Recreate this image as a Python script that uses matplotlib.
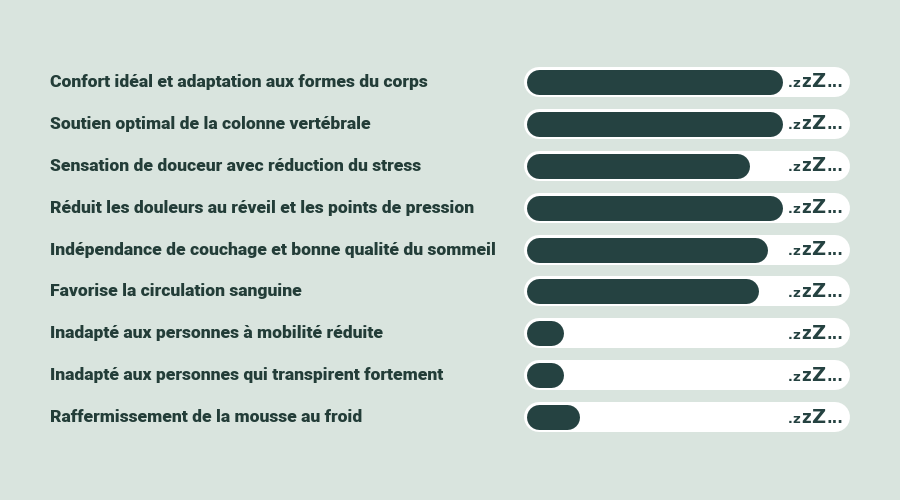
import matplotlib.pyplot as plt
import matplotlib.transforms as mtransforms
from matplotlib.offsetbox import TextArea, HPacker, AnnotationBbox

# data
labels = [
    "Confort idéal et adaptation aux formes du corps",
    "Soutien optimal de la colonne vertébrale",
    "Sensation de douceur avec réduction du stress",
    "Réduit les douleurs au réveil et les points de pression",
    "Indépendance de couchage et bonne qualité du sommeil",
    "Favorise la circulation sanguine",
    "Inadapté aux personnes à mobilité réduite",
    "Inadapté aux personnes qui transpirent fortement",
    "Raffermissement de la mousse au froid",
]
scores = [78, 78, 67, 78, 73, 70, 4, 4, 9.5]
max_score = 100
# ".zzZ..." drawn piece by piece, letters growing
end_pieces = [".", "z", "z", "Z", "..."]
end_sizes = [9, 9.5, 12, 14, 10.5]

BG = "#d9e4de"
DARK = "#254241"
TEXT = "#233d38"

fig = plt.figure(figsize=(9, 5), dpi=100)
fig.patch.set_facecolor(BG)

# axes holding the pill bars (round caps stick out by half the line width)
ax = fig.add_axes([539 / 900, 62 / 500, 296 / 900, 377 / 500])
ax.set_facecolor("none")
ax.set_xlim(0, max_score)
ax.set_ylim(len(labels) - 0.5, -0.5)
ax.axis("off")

for i, v in enumerate(scores):
    ax.plot([0, max_score], [i, i], color="white", lw=30 * 0.72,
            solid_capstyle="round", zorder=1, clip_on=False)
    ax.plot([0, v], [i, i], color=DARK, lw=25 * 0.72,
            solid_capstyle="round", zorder=2, clip_on=False)

    parts = [TextArea(s, textprops=dict(fontsize=fs, fontweight="bold",
                                        color=DARK, family=["DejaVu Sans"]))
             for s, fs in zip(end_pieces, end_sizes)]
    box = HPacker(children=parts, align="baseline", pad=0, sep=0.5)
    ab = AnnotationBbox(box, (max_score + 2.8, i), xycoords="data",
                        box_alignment=(1, 0.5), frameon=False, pad=0,
                        annotation_clip=False, zorder=3)
    ax.add_artist(ab)

trans = mtransforms.blended_transform_factory(fig.transFigure, ax.transData)
for i, lab in enumerate(labels):
    ax.text(50 / 900, i, lab, transform=trans, ha="left", va="center",
            fontsize=12.6, fontweight="black", color=TEXT,
            family=["Roboto", "DejaVu Sans"])

fig.savefig("out.png", dpi=100, facecolor=BG)
